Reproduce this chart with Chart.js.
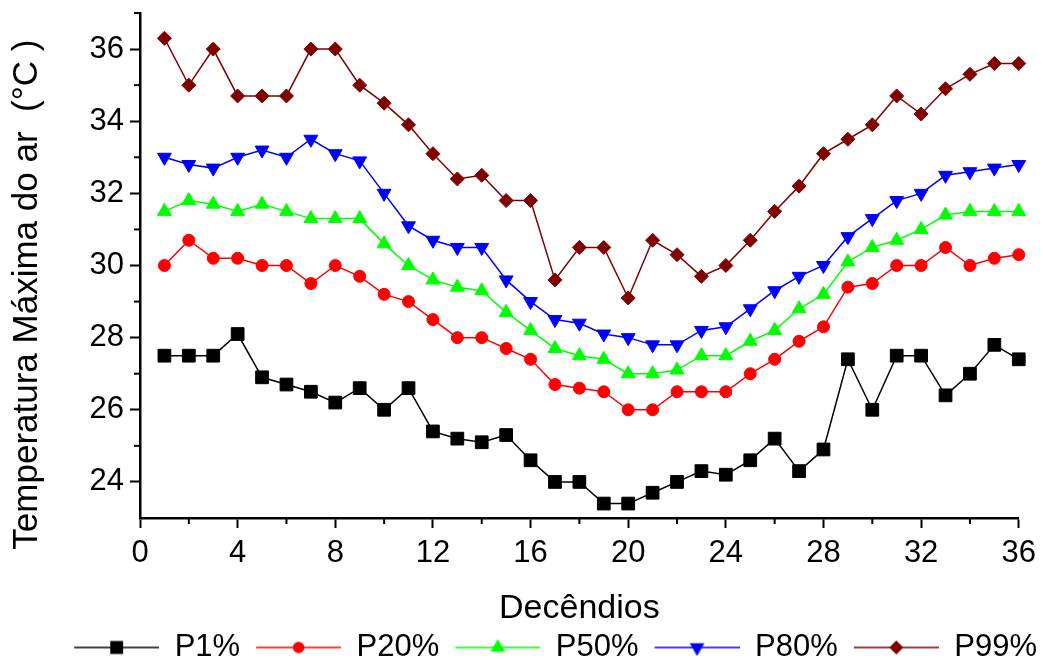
<!DOCTYPE html>
<html>
<head>
<meta charset="utf-8">
<script src="https://cdn.jsdelivr.net/npm/chart.js@4.4.0/dist/chart.umd.min.js"></script>
<style>
  html, body { margin: 0; padding: 0; background: #fff; }
</style>
</head>
<body>
<canvas id="chart" width="1043" height="664"></canvas>
<script>
// decêndios 1..36
var decendios = [1,2,3,4,5,6,7,8,9,10,11,12,13,14,15,16,17,18,19,20,21,22,23,24,25,26,27,28,29,30,31,32,33,34,35,36];

var p1  = [27.5,27.5,27.5,28.1,26.9,26.7,26.5,26.2,26.6,26.0,26.6,25.4,25.2,25.1,25.3,24.6,24.0,24.0,23.4,23.4,23.7,24.0,24.3,24.2,24.6,25.2,24.3,24.9,27.4,26.0,27.5,27.5,26.4,27.0,27.8,27.4];
var p20 = [30.0,30.7,30.2,30.2,30.0,30.0,29.5,30.0,29.7,29.2,29.0,28.5,28.0,28.0,27.7,27.4,26.7,26.6,26.5,26.0,26.0,26.5,26.5,26.5,27.0,27.4,27.9,28.3,29.4,29.5,30.0,30.0,30.5,30.0,30.2,30.3];
var p50 = [31.5,31.8,31.7,31.5,31.7,31.5,31.3,31.3,31.3,30.6,30.0,29.6,29.4,29.3,28.7,28.2,27.7,27.5,27.4,27.0,27.0,27.1,27.5,27.5,27.9,28.2,28.8,29.2,30.1,30.5,30.7,31.0,31.4,31.5,31.5,31.5];
var p80 = [33.0,32.8,32.7,33.0,33.2,33.0,33.5,33.1,32.9,32.0,31.1,30.7,30.5,30.5,29.6,29.0,28.5,28.4,28.1,28.0,27.8,27.8,28.2,28.3,28.8,29.3,29.7,30.0,30.8,31.3,31.8,32.0,32.5,32.6,32.7,32.8];
var p99 = [36.3,35.0,36.0,34.7,34.7,34.7,36.0,36.0,35.0,34.5,33.9,33.1,32.4,32.5,31.8,31.8,29.6,30.5,30.5,29.1,30.7,30.3,29.7,30.0,30.7,31.5,32.2,33.1,33.5,33.9,34.7,34.2,34.9,35.3,35.6,35.6];

var xTicks = [0,4,8,12,16,20,24,28,32,36];
var xMinor = [2,6,10,14,18,22,26,30,34];
var yTicks = [24,26,28,30,32,34,36];
var yMinor = [25,27,29,31,33,35,37];

var FONT = '"Liberation Sans", Arial, sans-serif';

function pts(values) {
  return decendios.map(function (d, i) { return { x: d, y: values[i] }; });
}

function series(label, values, color, style, rot, r) {
  return {
    label: label,
    data: pts(values),
    borderColor: color,
    backgroundColor: color,
    borderWidth: 1.5,
    pointStyle: style,
    rotation: rot,
    pointRadius: r,
    pointHoverRadius: r,
    pointBorderWidth: 1,
    pointBackgroundColor: color,
    pointBorderColor: color,
    tension: 0,
    clip: false
  };
}

var datasets = [
  series('P1%', p1, '#000000', 'rect', 0, 9),
  series('P20%', p20, '#ff0000', 'circle', 0, 6),
  series('P50%', p50, '#00ff00', 'triangle', 0, 8),
  series('P80%', p80, '#0000ff', 'triangle', 180, 8),
  series('P99%', p99, '#800000', 'rectRot', 0, 7)
];

// legend sample: line - marker - line (blank margin on the left)
function sample(ds) {
  var c = document.createElement('canvas');
  c.width = 97; c.height = 24;
  var g = c.getContext('2d');
  g.strokeStyle = ds.borderColor;
  g.lineWidth = 1.5;
  g.beginPath(); g.moveTo(12, 12); g.lineTo(97, 12); g.stroke();
  g.fillStyle = ds.borderColor;
  Chart.helpers.drawPoint(g, { pointStyle: ds.pointStyle, rotation: ds.rotation, radius: ds.pointRadius - 1, borderWidth: 1 }, 54.5, 12);
  return c;
}

var minorTicks = {
  id: 'minorTicks',
  afterLayout: function (chart) {
    // nudge the legend row to where the original sits
    var lg = chart.legend;
    lg.left += 10; lg.right += 10;
    lg.top += 9; lg.bottom += 9;
  },
  afterDraw: function (chart) {
    var ctx = chart.ctx, xs = chart.scales.x, ys = chart.scales.y;
    ctx.save();
    ctx.strokeStyle = '#000';
    ctx.lineWidth = 2;
    xMinor.forEach(function (v) {
      var px = xs.getPixelForValue(v);
      ctx.beginPath(); ctx.moveTo(px, ys.bottom); ctx.lineTo(px, ys.bottom + 6); ctx.stroke();
    });
    yMinor.forEach(function (v) {
      var py = ys.getPixelForValue(v);
      ctx.beginPath(); ctx.moveTo(xs.left, py); ctx.lineTo(xs.left - 6, py); ctx.stroke();
    });
    ctx.restore();
  }
};

new Chart(document.getElementById('chart'), {
  type: 'line',
  data: { datasets: datasets },
  options: {
    responsive: false,
    animation: false,
    devicePixelRatio: 1,
    layout: { padding: { left: 0, right: 12, top: 13, bottom: 0 } },
    scales: {
      x: {
        type: 'linear',
        min: 0,
        max: 36,
        afterFit: function (s) { s.height = 101; },
        afterBuildTicks: function (s) { s.ticks = xTicks.map(function (v) { return { value: v }; }); },
        grid: { drawOnChartArea: false, drawTicks: true, tickLength: 10, tickWidth: 2, tickColor: '#000' },
        border: { color: '#000', width: 2.5 },
        ticks: { color: '#000', padding: 7, maxRotation: 0, autoSkip: false, font: { family: FONT, size: 31 } },
        title: { display: true, text: 'Decêndios', color: '#000', font: { family: FONT, size: 34 }, padding: { top: 0, bottom: -10 } }
      },
      y: {
        min: 23,
        max: 37,
        afterFit: function (s) { s.width = 140; s.paddingTop = 0; s.paddingBottom = 0; },
        afterBuildTicks: function (s) { s.ticks = yTicks.map(function (v) { return { value: v }; }); },
        grid: { drawOnChartArea: false, drawTicks: true, tickLength: 10, tickWidth: 2, tickColor: '#000' },
        border: { color: '#000', width: 2.5 },
        ticks: { color: '#000', padding: 6, font: { family: FONT, size: 31 } },
        title: { display: true, text: 'Temperatura Máxima do ar  (°C )      ', color: '#000', font: { family: FONT, size: 35 }, padding: { top: 6, bottom: 0 } }
      }
    },
    plugins: {
      legend: {
        position: 'bottom',
        align: 'end',
        labels: {
          usePointStyle: true,
          pointStyleWidth: 97,
          padding: 4,
          color: '#000',
          font: { family: FONT, size: 31 },
          generateLabels: function (chart) {
            return chart.data.datasets.map(function (ds, i) {
              return { text: ds.label, pointStyle: sample(ds), datasetIndex: i, fillStyle: ds.borderColor, strokeStyle: ds.borderColor, lineWidth: 0, hidden: false };
            });
          }
        }
      },
      tooltip: { enabled: false }
    }
  },
  plugins: [minorTicks]
});
</script>
</body>
</html>
